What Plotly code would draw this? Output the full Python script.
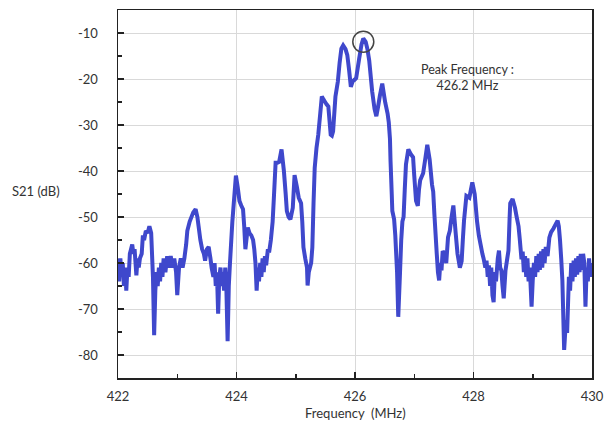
import plotly.graph_objects as go

freq = [422.00, 422.02, 422.04, 422.06, 422.08, 422.10, 422.12, 422.14, 422.16, 422.18,
        422.20, 422.22, 422.24, 422.26, 422.28, 422.31, 422.33, 422.35, 422.37, 422.40,
        422.42, 422.44, 422.47, 422.50, 422.53, 422.56, 422.59, 422.61, 422.63, 422.65,
        422.67, 422.69, 422.71, 422.73, 422.75, 422.77, 422.80, 422.83, 422.86, 422.89,
        422.92, 422.95, 422.98, 423.00, 423.03, 423.06, 423.09, 423.12, 423.15, 423.17,
        423.21, 423.27, 423.31, 423.34, 423.36, 423.39, 423.42, 423.45, 423.47, 423.50,
        423.53, 423.56, 423.58, 423.61, 423.63, 423.65, 423.67, 423.69, 423.71, 423.73,
        423.75, 423.77, 423.79, 423.81, 423.83, 423.85, 423.87, 423.89, 423.93, 423.99,
        424.02, 424.05, 424.08, 424.11, 424.13, 424.15, 424.19, 424.22, 424.25, 424.28,
        424.30, 424.32, 424.34, 424.36, 424.38, 424.40, 424.42, 424.44, 424.46, 424.48,
        424.50, 424.53, 424.55, 424.58, 424.61, 424.63, 424.66, 424.69, 424.72, 424.76,
        424.80, 424.83, 424.85, 424.88, 424.91, 424.95, 424.98, 425.02, 425.05, 425.09,
        425.11, 425.13, 425.16, 425.19, 425.20, 425.22, 425.24, 425.26, 425.28, 425.30,
        425.32, 425.35, 425.38, 425.41, 425.44, 425.47, 425.49, 425.52, 425.55, 425.59,
        425.61, 425.63, 425.67, 425.71, 425.74, 425.77, 425.80, 425.84, 425.87, 425.90,
        425.93, 425.96, 425.99, 426.02, 426.07, 426.11, 426.14, 426.18, 426.21, 426.24,
        426.29, 426.33, 426.36, 426.39, 426.42, 426.46, 426.49, 426.51, 426.55, 426.57,
        426.59, 426.60, 426.62, 426.63, 426.66, 426.68, 426.71, 426.73, 426.76, 426.78,
        426.80, 426.82, 426.84, 426.86, 426.90, 426.94, 426.98, 427.00, 427.03, 427.06,
        427.08, 427.10, 427.15, 427.19, 427.22, 427.26, 427.30, 427.32, 427.34, 427.38,
        427.40, 427.42, 427.44, 427.46, 427.48, 427.51, 427.54, 427.57, 427.60, 427.63,
        427.66, 427.70, 427.73, 427.75, 427.77, 427.80, 427.82, 427.84, 427.88, 427.93,
        427.98, 428.02, 428.06, 428.09, 428.12, 428.15, 428.17, 428.20, 428.22, 428.24,
        428.26, 428.28, 428.30, 428.32, 428.34, 428.36, 428.38, 428.41, 428.43, 428.45,
        428.47, 428.49, 428.51, 428.54, 428.57, 428.59, 428.61, 428.62, 428.66, 428.70,
        428.73, 428.76, 428.78, 428.81, 428.83, 428.85, 428.87, 428.89, 428.91, 428.93,
        428.95, 428.98, 429.00, 429.02, 429.04, 429.06, 429.08, 429.10, 429.12, 429.14,
        429.16, 429.18, 429.20, 429.22, 429.25, 429.28, 429.31, 429.35, 429.39, 429.42,
        429.44, 429.46, 429.48, 429.50, 429.53, 429.56, 429.58, 429.61, 429.63, 429.65,
        429.67, 429.69, 429.71, 429.73, 429.75, 429.77, 429.79, 429.81, 429.83, 429.85,
        429.87, 429.89, 429.91, 429.93, 429.95, 429.97, 430.00]

s21 = [-59, -64, -59, -63, -60, -65, -61, -66, -61, -63,
       -58, -57, -56, -58, -57, -62.7, -59, -61, -59, -58,
       -54, -55, -53, -53.5, -52, -53.5, -63, -75.7, -66, -62,
       -65, -61, -64, -60, -63, -59, -62, -58.5, -61, -58.5,
       -61, -59, -62, -67, -61, -59, -61, -59, -56, -53,
       -51, -49, -48.3, -50, -52, -55, -57, -58, -59.5, -57,
       -56.5, -59, -61, -63, -60, -65, -62, -71, -63, -61,
       -65, -62, -66, -61, -66, -77, -65, -60, -51, -41,
       -43.5, -46.5, -47.5, -48.3, -52, -57, -52.3, -53.5, -54, -55,
       -57, -60, -66, -61, -64, -60, -63, -59, -62, -58.5,
       -60.5, -57, -57.7, -55, -51, -46, -38.2, -38.2, -38, -35.3,
       -40, -45, -48.7, -50, -50.5, -48, -40.9, -43.5, -45.8, -47,
       -51, -56.6, -59, -61, -64.9, -62, -61, -60, -56.6, -47,
       -39.3, -35, -32.1, -28, -23.8, -24.5, -24.9, -25.5, -26, -32.1,
       -32.3, -31.4, -23.8, -20.6, -16.5, -13.4, -12.7, -13.5, -14.8, -18,
       -21.7, -20.5, -20.2, -19.8, -15.6, -12.5, -11.2, -11.9, -13.5, -16,
       -22.7, -26.5, -28.1, -26, -23.6, -21, -23.5, -25.1, -27.5, -29.4,
       -33, -37.9, -45, -48.7, -50.5, -54, -62, -71.7, -62, -55,
       -51, -50, -44, -38.6, -35.3, -36.3, -37, -41, -46.5, -47.6,
       -44, -42, -40.5, -37, -34.3, -37.5, -43, -44.5, -49.4, -58,
       -62, -63.8, -60, -61.6, -57.4, -58, -60, -54.4, -53, -50,
       -47.5, -53.6, -58, -59.5, -61, -59.6, -55, -50.8, -45.4, -45.8,
       -42.5, -45, -51, -54, -56, -58, -59, -61, -59.5, -63,
       -60.5, -65, -61, -67, -68.5, -62, -64, -59, -57.3, -61,
       -61.6, -65, -67.7, -61.6, -59, -57.3, -50, -47, -46.1, -48,
       -50.1, -52, -54.7, -59.2, -57.5, -62, -58.5, -63, -59, -64,
       -61, -69.5, -63.7, -60, -63, -58.5, -62, -58, -61.5, -57.5,
       -61, -57, -60, -56.5, -58.5, -54.5, -53.3, -52.5, -51.5, -50.8,
       -52, -55, -59, -63.8, -78.9, -72.4, -75.2, -63, -66, -60,
       -64, -59.5, -63, -59, -62.5, -58.5, -62, -58, -61.5, -58,
       -60, -69.5, -61, -64, -59, -63, -60]

peak_freq = [426.14]
peak_s21 = [-11.9]

x_ticks = [422, 424, 426, 428, 430]
x_labels = ["422", "424", "426", "428", "430"]
y_ticks = [-10, -20, -30, -40, -50, -60, -70, -80]
y_labels = ["-10", "-20", "-30", "-40", "-50", "-60", "-70", "-80"]

font_family = "Lato, 'Noto Sans', sans-serif"
text_color = "#333333"

fig = go.Figure()
fig.add_trace(go.Scatter(
    x=freq, y=s21, mode="lines",
    line=dict(color="#3F48CC", width=4, simplify=False),
    showlegend=False, hoverinfo="skip",
))
fig.add_trace(go.Scatter(
    x=peak_freq, y=peak_s21, mode="markers",
    marker=dict(symbol="circle-open", size=21, color="#444444", line=dict(width=1.5, color="#444444")),
    showlegend=False, hoverinfo="skip",
))

fig.update_layout(
    width=612, height=424,
    margin=dict(l=118, r=12, t=8, b=46),
    paper_bgcolor="white", plot_bgcolor="white",
    font=dict(family=font_family, size=13, color=text_color),
    xaxis=dict(
        range=[422, 430], tickvals=x_ticks, ticktext=x_labels,
        showgrid=True, gridcolor="#d9d9d9", gridwidth=1,
        showline=True, linecolor="#222222", linewidth=1.5, mirror=True,
        ticks="inside", ticklen=6, tickwidth=1.5, tickcolor="#222222",
        minor=dict(dtick=1, ticks="inside", ticklen=4, tickwidth=1.5, tickcolor="#222222", showgrid=False),
        zeroline=False, ticklabelstandoff=6,
    ),
    yaxis=dict(
        range=[-85, -5], tickvals=y_ticks, ticktext=y_labels,
        showgrid=True, gridcolor="#d9d9d9", gridwidth=1,
        showline=True, linecolor="#222222", linewidth=1.5, mirror=True,
        ticks="inside", ticklen=6, tickwidth=1.5, tickcolor="#222222",
        minor=dict(tickvals=[-15, -25, -35, -45, -55, -65, -75, -85], ticks="inside", ticklen=4,
                   tickwidth=1.5, tickcolor="#222222", showgrid=False),
        zeroline=False, ticklabelstandoff=16,
    ),
    annotations=[
        dict(text="S21 (dB)", xref="paper", yref="paper", x=-0.228, y=0.508,
             xanchor="left", yanchor="middle", showarrow=False,
             font=dict(family=font_family, size=13, color=text_color)),
        dict(text="Frequency  (MHz)", xref="paper", yref="paper", x=0.502, y=-0.095,
             xanchor="center", yanchor="middle", showarrow=False,
             font=dict(family=font_family, size=13, color=text_color)),
        dict(text="Peak Frequency :<br>426.2 MHz", xref="x", yref="y", x=427.9, y=-19.7,
             xanchor="center", yanchor="middle", showarrow=False,
             font=dict(family=font_family, size=12.5, color=text_color)),
    ],
)

fig.write_html(
    "out.html",
    config={"displayModeBar": False, "staticPlot": True},
    post_script="document.body.style.margin='0';document.body.style.overflow='hidden';",
)
